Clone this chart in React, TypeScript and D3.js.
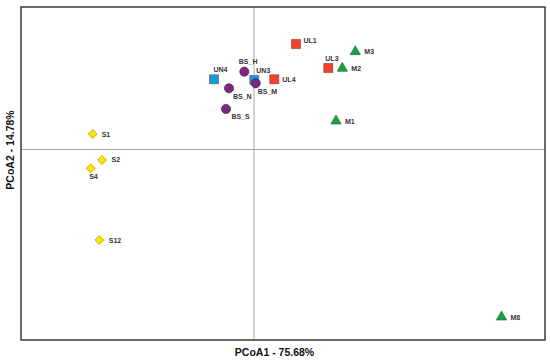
import React from "react";
import * as d3 from "d3";

// Sample groups and their PCoA coordinates (PCoA1, PCoA2), arbitrary units
const groupS = ["S1", "S2", "S4", "S12"];
const groupSx = [-1.613, -1.52, -1.633, -1.547];
const groupSy = [0.155, -0.105, -0.188, -0.905];

const groupUN = ["UN4", "UN3"];
const groupUNx = [-0.4, 0.003];
const groupUNy = [0.702, 0.695];

const groupBS = ["BS_H", "BS_M", "BS_N", "BS_S"];
const groupBSx = [-0.097, 0.017, -0.25, -0.28];
const groupBSy = [0.778, 0.662, 0.612, 0.405];

const groupUL = ["UL4", "UL1", "UL3"];
const groupULx = [0.203, 0.42, 0.743];
const groupULy = [0.702, 1.055, 0.815];

const groupM = ["M3", "M2", "M1", "M8"];
const groupMx = [1.013, 0.883, 0.82, 2.475];
const groupMy = [0.978, 0.812, 0.285, -1.675];

const xTitle = "PCoA1 - 75.68%";
const yTitle = "PCoA2 - 14.78%";

// label placement (styling)
const labelOffset: Record<string, [number, number]> = {
  S1: [9, 2.5], S2: [9.5, 2], S4: [-1.5, 10.5], S12: [9.5, 2.5],
  UN4: [-0.5, -7], UN3: [2, -7],
  BS_H: [-5.5, -8], BS_M: [2, 10.5], BS_N: [4, 10.5], BS_S: [5.5, 9.5],
  UL4: [8, 2.5], UL1: [7.5, -1.5], UL3: [-3, -7],
  M3: [9, 2.5], M2: [9, 2.5], M1: [9, 2.5], M8: [9, 2.5],
};

export default function App() {
  const W = 550, H = 361;
  const left = 21, right = 545, top = 7, bottom = 340;
  const x = d3.scaleLinear().domain([-2.33, 2.91]).range([left, right]);
  const y = d3.scaleLinear().domain([-1.905, 1.425]).range([bottom, top]);

  const groups = [
    { names: groupS, xs: groupSx, ys: groupSy, path: d3.symbol(d3.symbolSquare, 40)()!, rot: 45, fill: "#FFE500", stroke: "#B09A00" },
    { names: groupUN, xs: groupUNx, ys: groupUNy, path: d3.symbol(d3.symbolSquare, 81)()!, rot: 0, fill: "#159AD5", stroke: "#5a6a74" },
    { names: groupUL, xs: groupULx, ys: groupULy, path: d3.symbol(d3.symbolSquare, 81)()!, rot: 0, fill: "#F4402A", stroke: "#8a4a40" },
    { names: groupBS, xs: groupBSx, ys: groupBSy, path: d3.symbol(d3.symbolCircle, 66)()!, rot: 0, fill: "#75297F", stroke: "#5a1f62" },
    { names: groupM, xs: groupMx, ys: groupMy, path: d3.symbol(d3.symbolTriangle, 46)()!, rot: 0, fill: "#1E9E47", stroke: "#17773a" },
  ];

  return (
    <svg width={W} height={H} style={{ position: "absolute", left: 0, top: 0, background: "#fff" }}
      fontFamily="'Liberation Sans', Arial, sans-serif">
      <rect x={0} y={0} width={W} height={H} fill="#fff" />
      <line x1={x(0)} x2={x(0)} y1={top} y2={bottom} stroke="#a8a8a8" strokeWidth={1} />
      <line x1={left} x2={right} y1={y(0)} y2={y(0)} stroke="#a8a8a8" strokeWidth={1} />
      <rect x={left} y={top} width={right - left} height={bottom - top} fill="none" stroke="#3a3a3a" strokeWidth={1.5} />
      {groups.map((g, gi) =>
        g.names.map((n, i) => {
          const px = x(g.xs[i]);
          const py = y(g.ys[i]);
          const [dx, dy] = labelOffset[n];
          return (
            <g key={gi + "-" + n}>
              <path d={g.path} transform={`translate(${px},${py}) rotate(${g.rot})`} fill={g.fill} stroke={g.stroke} strokeWidth={0.7} />
              <text x={px + dx} y={py + dy} fontSize={7} fontWeight="bold" fill="#333">{n}</text>
            </g>
          );
        })
      )}
      <text x={274.5} y={356} textAnchor="middle" fontSize={10.5} fontWeight="bold" fill="#111">{xTitle}</text>
      <text transform={`translate(13.5,${150}) rotate(-90)`} textAnchor="middle" fontSize={10.5} fontWeight="bold" fill="#111">{yTitle}</text>
    </svg>
  );
}
